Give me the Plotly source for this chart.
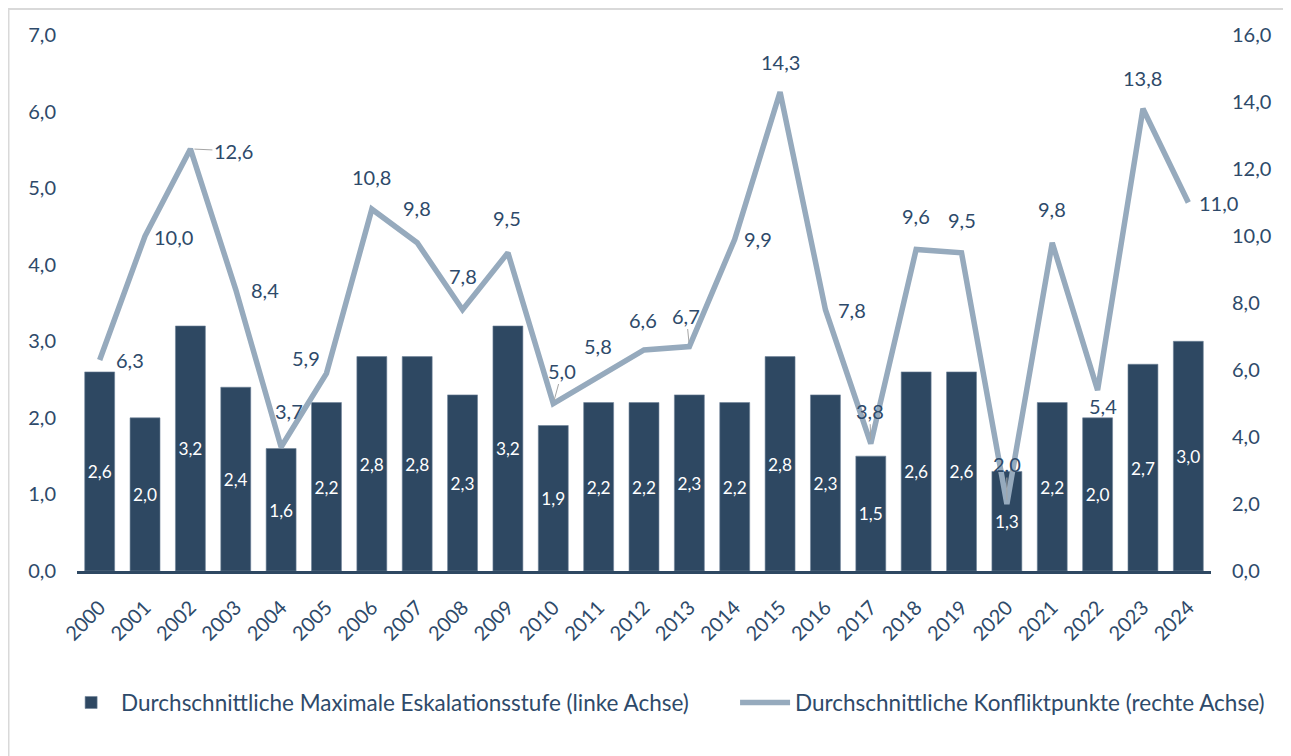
import plotly.graph_objects as go

years = list(range(2000, 2025))
eskalation = [2.6, 2.0, 3.2, 2.4, 1.6, 2.2, 2.8, 2.8, 2.3, 3.2, 1.9, 2.2, 2.2, 2.3, 2.2,
              2.8, 2.3, 1.5, 2.6, 2.6, 1.3, 2.2, 2.0, 2.7, 3.0]
konflikt = [6.3, 10.0, 12.6, 8.4, 3.7, 5.9, 10.8, 9.8, 7.8, 9.5, 5.0, 5.8, 6.6, 6.7, 9.9,
            14.3, 7.8, 3.8, 9.6, 9.5, 2.0, 9.8, 5.4, 13.8, 11.0]
left_ticks = [0, 1, 2, 3, 4, 5, 6, 7]
right_ticks = [0, 2, 4, 6, 8, 10, 12, 14, 16]
name_bar = "Durchschnittliche Maximale Eskalationsstufe (linke Achse)"
name_line = "Durchschnittliche Konfliktpunkte (rechte Achse)"

# label offsets (pixels: dx right, dy down) for line labels, and leader-line flags
label_offsets = [(30, 0), (28, 1), (43, 2), (29, 0), (8, -36), (-20, -15), (0, -32), (0, -35),
                 (0, -34), (-1, -35), (9, -33), (-1, -31), (-1, -30), (-3, -31), (23, 0),
                 (0, -30), (27, 0), (-1, -33), (0, -33), (0, -33), (0, -40), (0, -34),
                 (5, 16), (0, -31), (30, 0)]
leaders = {2002, 2010, 2013, 2017, 2020}

BAR = "#2E4862"
LINE = "#96AABD"
TXT = "#2E4A6A"
FONT = "Lato"
FS = 20
LFS = 22.5

fig = go.Figure()
fig.add_trace(go.Bar(
    x=years, y=eskalation, name=name_bar, legend="legend",
    marker=dict(color=BAR, line=dict(color="#6F8398", width=0.6)),
    texttemplate="%{y:.1f}", textposition="inside", insidetextanchor="middle",
    textfont=dict(color="white", size=FS, family=FONT),
    textangle=0, cliponaxis=False,
))
fig.add_trace(go.Scatter(
    x=years, y=konflikt, name=name_line, yaxis="y2", mode="lines", legend="legend2",
    line=dict(color=LINE, width=5.5),
))

annotations = []
for yr, v, (dx, dy) in zip(years, konflikt, label_offsets):
    txt = f"{v:.1f}".replace(".", ",")
    if yr in leaders:
        annotations.append(dict(
            x=yr, y=v, xref="x", yref="y2", text=txt,
            showarrow=True, arrowhead=0, arrowwidth=1, arrowcolor="#A5A5A5",
            ax=dx, ay=dy, standoff=4,
            font=dict(color=TXT, size=FS, family=FONT),
        ))
    else:
        annotations.append(dict(
            x=yr, y=v, xref="x", yref="y2", text=txt,
            showarrow=False, xshift=dx, yshift=-dy,
            font=dict(color=TXT, size=FS, family=FONT),
        ))

shapes = [dict(type="rect", xref="paper", yref="paper",
               x0=-0.0604, x1=1.2, y0=-0.6, y1=1.0485,
               line=dict(color="#D9D9D9", width=2), fillcolor="rgba(0,0,0,0)", layer="below")]

fig.update_layout(
    width=1291, height=756,
    margin=dict(l=69, r=88, t=27, b=193),
    paper_bgcolor="white", plot_bgcolor="white",
    separators=",.",
    font=dict(family=FONT, size=FS, color=TXT),
    bargap=0.34,
    showlegend=True,
    legend=dict(orientation="h", x=-0.014, xanchor="left", y=-0.246, yanchor="middle",
                font=dict(size=LFS, color=TXT, family=FONT), itemwidth=50),
    legend2=dict(orientation="h", x=0.5803, xanchor="left", y=-0.246, yanchor="middle",
                 font=dict(size=LFS, color=TXT, family=FONT), itemwidth=50),
    xaxis=dict(range=[1999.5, 2024.5], tickvals=years, showline=True, linecolor=BAR,
               linewidth=3, tickangle=-45, ticks="", showgrid=False, zeroline=False,
               tickfont=dict(size=FS, color=TXT, family=FONT), ticklabelstandoff=14),
    yaxis=dict(range=[0, 7], tickvals=left_ticks, tickformat=".1f", showgrid=False,
               zeroline=False, showline=False, ticklabelstandoff=20,
               tickfont=dict(size=FS, color=TXT, family=FONT)),
    yaxis2=dict(range=[0, 16], tickvals=right_ticks, tickformat=".1f", overlaying="y",
                side="right", showgrid=False, zeroline=False, showline=False,
                ticklabelstandoff=20, tickfont=dict(size=FS, color=TXT, family=FONT)),
    annotations=annotations,
    shapes=shapes,
)

fig.write_html("out.html")
